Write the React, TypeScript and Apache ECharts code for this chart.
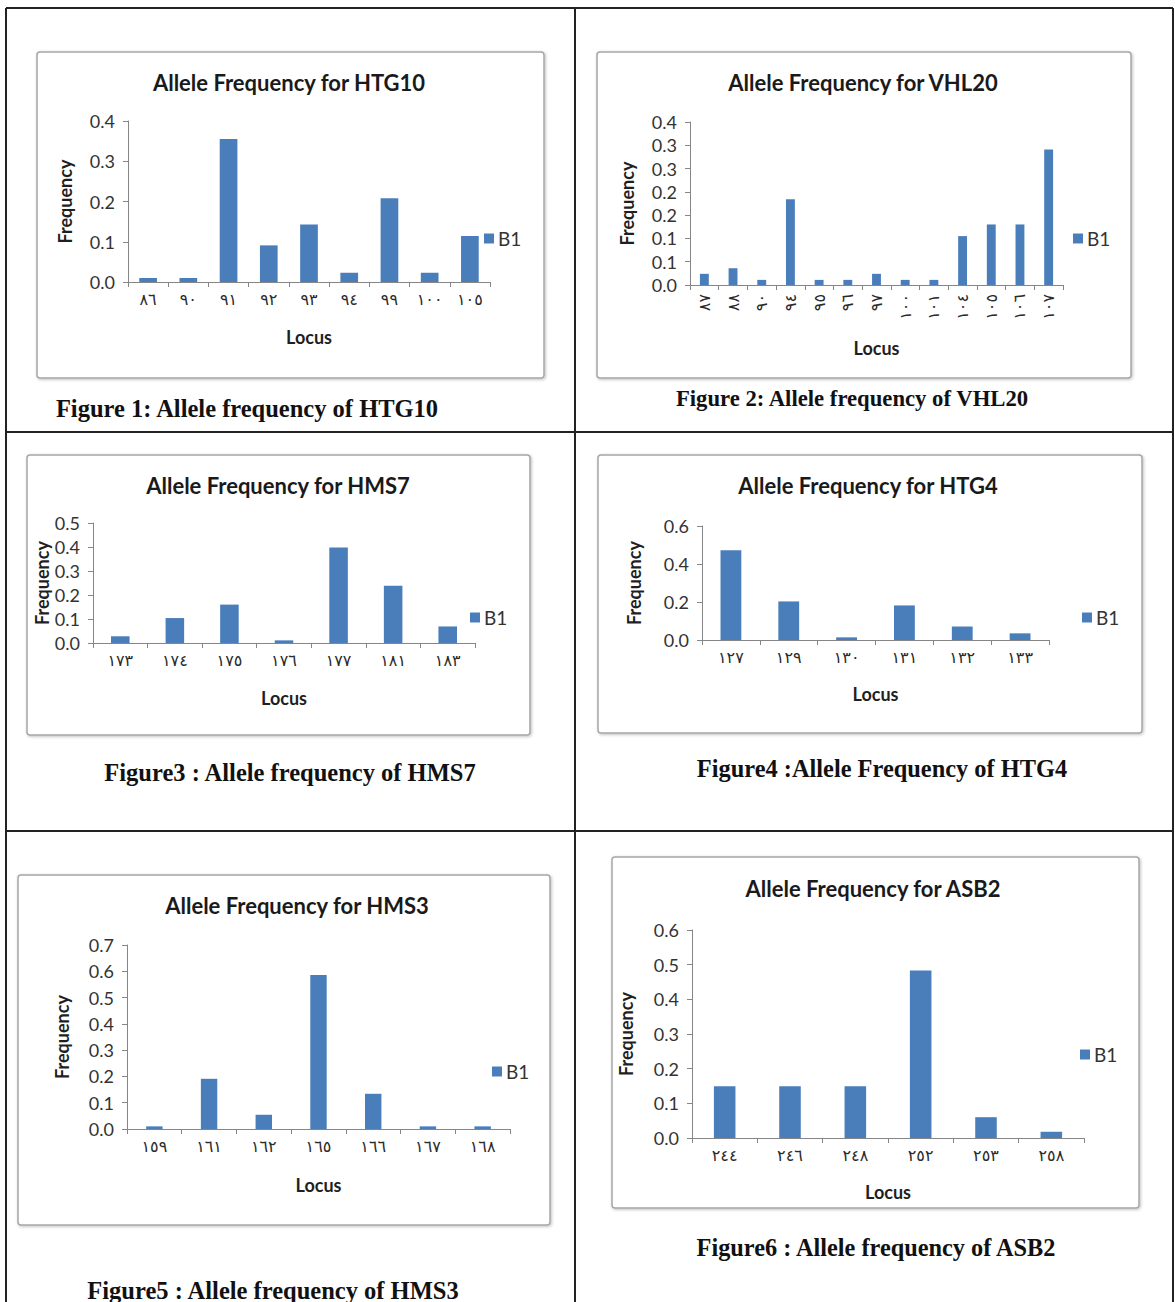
import React, { useEffect, useRef } from "react";
import * as echarts from "echarts";

// ---- Allele data per locus (Arabic-Indic allele sizes) ----
const htg10Loci = ["٨٦", "٩٠", "٩١", "٩٢", "٩٣", "٩٤", "٩٩", "١٠٠", "١٠٥"];
const htg10Freq = [0.01, 0.01, 0.355, 0.091, 0.143, 0.023, 0.208, 0.023, 0.114];

const vhl20Loci = ["٨٧", "٨٨", "٩٠", "٩٤", "٩٥", "٩٦", "٩٧", "١٠٠", "١٠١", "١٠٤", "١٠٥", "١٠٦", "١٠٧"];
const vhl20Freq = [0.024, 0.036, 0.011, 0.184, 0.011, 0.011, 0.024, 0.011, 0.011, 0.105, 0.13, 0.13, 0.291];

const hms7Loci = ["١٧٣", "١٧٤", "١٧٥", "١٧٦", "١٧٧", "١٨١", "١٨٣"];
const hms7Freq = [0.028, 0.104, 0.16, 0.011, 0.398, 0.239, 0.069];

const htg4Loci = ["١٢٧", "١٢٩", "١٣٠", "١٣١", "١٣٢", "١٣٣"];
const htg4Freq = [0.473, 0.203, 0.014, 0.182, 0.071, 0.035];

const hms3Loci = ["١٥٩", "١٦١", "١٦٢", "١٦٥", "١٦٦", "١٦٧", "١٦٨"];
const hms3Freq = [0.01, 0.191, 0.054, 0.586, 0.134, 0.01, 0.01];

const asb2Loci = ["٢٤٤", "٢٤٦", "٢٤٨", "٢٥٢", "٢٥٣", "٢٥٨"];
const asb2Freq = [0.149, 0.149, 0.149, 0.483, 0.06, 0.018];

const SERIES_NAME = "B1";

// ---- Panel layout ----
const panels = [
  {
    title: "Allele Frequency for HTG10",
    caption: "Figure 1: Allele frequency of HTG10",
    loci: htg10Loci, freq: htg10Freq, yMax: 0.4, yStep: 0.1,
    grid: { left: 128, top: 121, width: 362, height: 161 },
    box: [37, 52, 507, 326], titlePos: [289, 82], captionPos: [247, 408], captionSize: 24.5,
    legendPos: [484, 239], freqGap: 54, locusGap: 46, barWidth: "44%", rotate: 0,
  },
  {
    title: "Allele Frequency for VHL20",
    caption: "Figure 2: Allele frequency of VHL20",
    loci: vhl20Loci, freq: vhl20Freq, yMax: 0.35, yStep: 0.05,
    grid: { left: 690, top: 122, width: 373, height: 163 },
    box: [597, 52, 534, 326], titlePos: [863, 82], captionPos: [852, 398], captionSize: 22.7,
    legendPos: [1073, 239], freqGap: 54, locusGap: 54, barWidth: "31%", rotate: 90,
  },
  {
    title: "Allele Frequency for HMS7",
    caption: "Figure3 : Allele frequency of HMS7",
    loci: hms7Loci, freq: hms7Freq, yMax: 0.5, yStep: 0.1,
    grid: { left: 93, top: 523, width: 382, height: 120 },
    box: [27, 455, 503, 280], titlePos: [278, 485], captionPos: [290, 772], captionSize: 24.5,
    legendPos: [470, 618], freqGap: 42, locusGap: 46, barWidth: "34%", rotate: 0,
  },
  {
    title: "Allele Frequency for HTG4",
    caption: "Figure4 :Allele Frequency of HTG4",
    loci: htg4Loci, freq: htg4Freq, yMax: 0.6, yStep: 0.2,
    grid: { left: 702, top: 526, width: 347, height: 114 },
    box: [598, 455, 544, 278], titlePos: [868, 485], captionPos: [882, 768], captionSize: 24.4,
    legendPos: [1082, 618], freqGap: 59, locusGap: 45, barWidth: "36%", rotate: 0,
  },
  {
    title: "Allele Frequency for HMS3",
    caption: "Figure5 : Allele frequency of HMS3",
    loci: hms3Loci, freq: hms3Freq, yMax: 0.7, yStep: 0.1,
    grid: { left: 127, top: 945, width: 383, height: 184 },
    box: [18, 875, 532, 350], titlePos: [297, 905], captionPos: [273, 1290], captionSize: 24.5,
    legendPos: [492, 1072], freqGap: 56, locusGap: 47, barWidth: "30%", rotate: 0,
  },
  {
    title: "Allele Frequency for ASB2",
    caption: "Figure6 : Allele frequency of ASB2",
    loci: asb2Loci, freq: asb2Freq, yMax: 0.6, yStep: 0.1,
    grid: { left: 692, top: 930, width: 392, height: 208 },
    box: [612, 857, 527, 351], titlePos: [873, 888], captionPos: [876, 1247], captionSize: 24.3,
    legendPos: [1080, 1055], freqGap: 57, locusGap: 45, barWidth: "33%", rotate: 0,
  },
];

const BAR_COLOR = "#4a7ebb";
const AXIS_COLOR = "#868686";
const LABEL_COLOR = "#333333";
const SANS = "Lato, 'Noto Sans', sans-serif";

const oneDecimal = (v: number) => (Math.round(v * 10 + 1e-9) / 10).toFixed(1);

function buildOption() {
  const grids = panels.map((p) => ({ ...p.grid, containLabel: false }));

  const xAxes = panels.map((p, i) => ({
    gridIndex: i,
    type: "category",
    data: p.loci,
    boundaryGap: true,
    axisLine: { lineStyle: { color: AXIS_COLOR, width: 1 } },
    axisTick: { show: true, length: 5, alignWithLabel: false, lineStyle: { color: AXIS_COLOR } },
    axisLabel: {
      interval: 0,
      rotate: p.rotate,
      margin: 9,
      color: "#2a2a2a",
      fontFamily: "'DejaVu Sans', sans-serif",
      fontSize: 16,
    },
    name: "Locus",
    nameLocation: "middle",
    nameGap: p.locusGap,
    nameTextStyle: { fontFamily: SANS, fontWeight: "bold", fontSize: 18, color: "#1f1f1f" },
  }));

  const yAxes = panels.map((p, i) => ({
    gridIndex: i,
    type: "value",
    min: 0,
    max: p.yMax,
    interval: p.yStep,
    axisLine: { show: true, lineStyle: { color: AXIS_COLOR, width: 1 } },
    axisTick: { show: true, length: 5, lineStyle: { color: AXIS_COLOR } },
    splitLine: { show: false },
    axisLabel: {
      formatter: oneDecimal,
      margin: 13,
      color: LABEL_COLOR,
      fontFamily: SANS,
      fontSize: 18,
    },
    name: "Frequency",
    nameLocation: "middle",
    nameRotate: 90,
    nameGap: p.freqGap,
    nameTextStyle: { fontFamily: SANS, fontWeight: "bold", fontSize: 18, color: "#1f1f1f" },
  }));

  const series = panels.map((p, i) => ({
    type: "bar",
    name: SERIES_NAME,
    xAxisIndex: i,
    yAxisIndex: i,
    data: p.freq,
    barWidth: p.barWidth,
    itemStyle: { color: BAR_COLOR },
  }));

  const legends = panels.map((p) => ({
    data: [SERIES_NAME],
    left: p.legendPos[0],
    top: p.legendPos[1] - 10,
    orient: "vertical",
    icon: "rect",
    itemWidth: 10,
    itemHeight: 10,
    itemGap: 4,
    padding: 0,
    selectedMode: false,
    textStyle: { fontFamily: SANS, fontSize: 19, color: LABEL_COLOR, padding: [0, 0, 0, -1] },
  }));

  const graphics: any[] = [];

  // chart frames inside each table cell
  panels.forEach((p) => {
    graphics.push({
      type: "rect",
      z: -10,
      shape: { x: p.box[0], y: p.box[1], width: p.box[2], height: p.box[3], r: 3 },
      style: {
        fill: "#ffffff",
        stroke: "#a6a6a6",
        lineWidth: 1.5,
        shadowBlur: 3,
        shadowOffsetX: 1,
        shadowOffsetY: 1,
        shadowColor: "rgba(0,0,0,0.25)",
      },
    });
    graphics.push({
      type: "text",
      x: p.titlePos[0],
      y: p.titlePos[1],
      style: {
        text: p.title,
        fill: "#1a1a1a",
        font: `bold 22px ${SANS}`,
        textAlign: "center",
        textVerticalAlign: "middle",
      },
    });
    graphics.push({
      type: "text",
      x: p.captionPos[0],
      y: p.captionPos[1],
      style: {
        text: p.caption,
        fill: "#111111",
        font: `bold ${p.captionSize}px 'Liberation Serif', 'Times New Roman', serif`,
        textAlign: "center",
        textVerticalAlign: "middle",
      },
    });
  });

  // table rules
  const rule = (x1: number, y1: number, x2: number, y2: number) => ({
    type: "line",
    z: 5,
    shape: { x1, y1, x2, y2 },
    style: { stroke: "#222222", lineWidth: 2 },
  });
  graphics.push(rule(6, 8, 1173, 8));
  graphics.push(rule(6, 8, 6, 1302));
  graphics.push(rule(1173, 8, 1173, 1302));
  graphics.push(rule(575, 8, 575, 1302));
  graphics.push(rule(6, 432, 1173, 432));
  graphics.push(rule(6, 831, 1173, 831));

  return {
    animation: false,
    backgroundColor: "#ffffff",
    grid: grids,
    xAxis: xAxes,
    yAxis: yAxes,
    series,
    legend: legends,
    graphic: graphics,
  };
}

export default function App() {
  const ref = useRef<HTMLDivElement>(null);

  useEffect(() => {
    if (!ref.current) return;
    const chart = echarts.init(ref.current, undefined, { renderer: "svg" });
    chart.setOption(buildOption() as any);
    return () => chart.dispose();
  }, []);

  return (
    <div
      ref={ref}
      style={{ position: "absolute", left: 0, top: 0, width: 1175, height: 1302, background: "#fff" }}
    />
  );
}
